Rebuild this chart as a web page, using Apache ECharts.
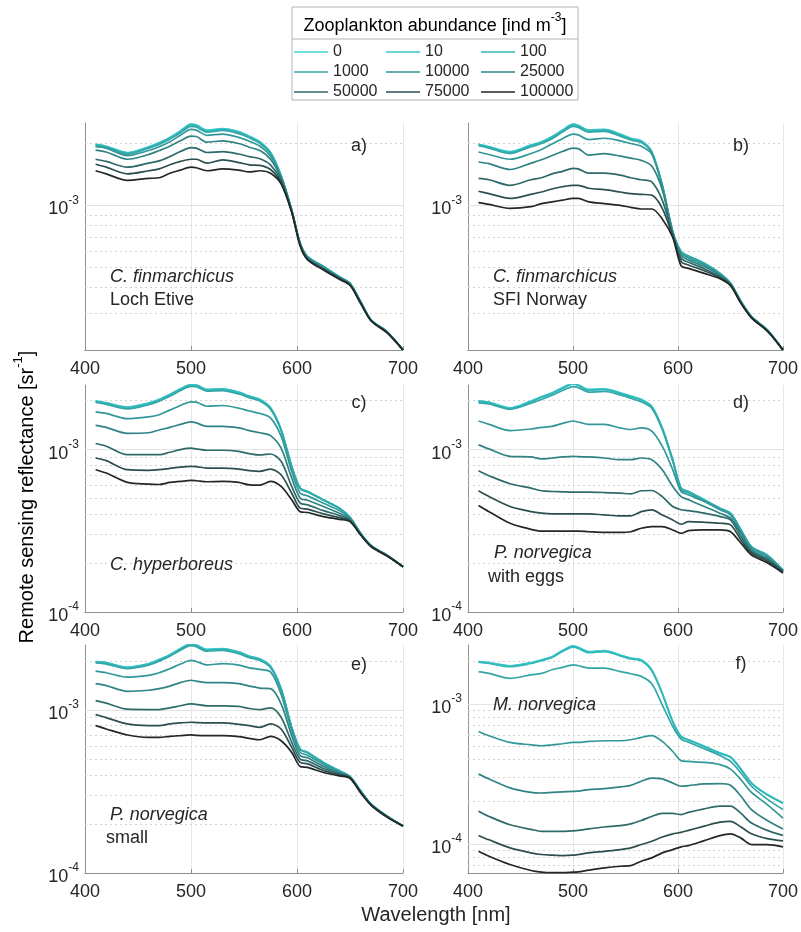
<!DOCTYPE html>
<html><head><meta charset="utf-8">
<script src="https://cdn.jsdelivr.net/npm/echarts@6/dist/echarts.min.js"></script>
<style>html,body{margin:0;padding:0;background:#fff}#c{width:801px;height:932px}</style>
</head><body><div id="c"></div>
<script>
const FONT = '"Liberation Sans", Arial, Helvetica, sans-serif';
const wavelength = [410, 420, 440, 460, 470, 480, 490, 500, 505, 515, 530, 545, 555, 565, 575, 585, 595, 603, 610, 625, 640, 650, 660, 670, 685, 700];
const abundance = ['0', '10', '100', '1000', '10000', '25000', '50000', '75000', '100000'];
const xTicks = [400, 500, 600, 700];

// ---- panel a: C. finmarchicus, Loch Etive ----
const a_0 = [19.7e-4, 19.3e-4, 18.0e-4, 19.2e-4, 20.1e-4, 21.3e-4, 22.9e-4, 24.7e-4, 24.5e-4, 23.1e-4, 23.5e-4, 22.7e-4, 21.6e-4, 20.3e-4, 18.0e-4, 13.9e-4, 9.50e-4, 6.55e-4, 5.65e-4, 5.06e-4, 4.52e-4, 4.20e-4, 3.43e-4, 2.79e-4, 2.45e-4, 2.00e-4];
const a_10 = [19.7e-4, 19.3e-4, 17.9e-4, 19.1e-4, 20.0e-4, 21.2e-4, 22.8e-4, 24.6e-4, 24.4e-4, 23.0e-4, 23.4e-4, 22.6e-4, 21.5e-4, 20.2e-4, 18.0e-4, 13.9e-4, 9.50e-4, 6.55e-4, 5.65e-4, 5.06e-4, 4.52e-4, 4.20e-4, 3.43e-4, 2.79e-4, 2.45e-4, 2.00e-4];
const a_100 = [19.6e-4, 19.2e-4, 17.9e-4, 19.0e-4, 19.9e-4, 21.1e-4, 22.7e-4, 24.4e-4, 24.2e-4, 22.9e-4, 23.2e-4, 22.5e-4, 21.4e-4, 20.1e-4, 17.9e-4, 13.9e-4, 9.49e-4, 6.55e-4, 5.65e-4, 5.06e-4, 4.52e-4, 4.20e-4, 3.43e-4, 2.79e-4, 2.45e-4, 2.00e-4];
const a_1000 = [19.4e-4, 19.0e-4, 17.7e-4, 18.9e-4, 19.7e-4, 20.9e-4, 22.4e-4, 24.1e-4, 23.9e-4, 22.6e-4, 23.0e-4, 22.2e-4, 21.2e-4, 19.9e-4, 17.8e-4, 13.8e-4, 9.49e-4, 6.54e-4, 5.64e-4, 5.05e-4, 4.51e-4, 4.19e-4, 3.42e-4, 2.79e-4, 2.45e-4, 2.00e-4];
const a_10000 = [19.2e-4, 18.9e-4, 17.4e-4, 18.4e-4, 19.2e-4, 20.3e-4, 21.8e-4, 23.3e-4, 23.1e-4, 21.8e-4, 22.1e-4, 21.3e-4, 20.4e-4, 19.3e-4, 17.3e-4, 13.7e-4, 9.48e-4, 6.53e-4, 5.61e-4, 5.02e-4, 4.49e-4, 4.18e-4, 3.41e-4, 2.78e-4, 2.44e-4, 2.00e-4];
const a_25000 = [18.5e-4, 18.1e-4, 16.7e-4, 17.6e-4, 18.4e-4, 19.3e-4, 20.5e-4, 21.6e-4, 21.5e-4, 20.2e-4, 20.5e-4, 19.9e-4, 19.1e-4, 18.4e-4, 16.7e-4, 13.5e-4, 9.45e-4, 6.50e-4, 5.57e-4, 4.98e-4, 4.47e-4, 4.17e-4, 3.40e-4, 2.78e-4, 2.44e-4, 2.00e-4];
const a_50000 = [16.7e-4, 16.3e-4, 15.3e-4, 16.0e-4, 16.4e-4, 17.2e-4, 18.2e-4, 19.0e-4, 18.9e-4, 18.0e-4, 18.2e-4, 17.7e-4, 17.2e-4, 16.8e-4, 15.7e-4, 13.2e-4, 9.38e-4, 6.46e-4, 5.53e-4, 4.94e-4, 4.44e-4, 4.14e-4, 3.39e-4, 2.77e-4, 2.43e-4, 2.00e-4];
const a_75000 = [15.8e-4, 15.3e-4, 14.2e-4, 14.7e-4, 15.0e-4, 15.7e-4, 16.3e-4, 16.7e-4, 16.7e-4, 16.0e-4, 16.6e-4, 16.1e-4, 15.7e-4, 15.6e-4, 14.9e-4, 12.9e-4, 9.31e-4, 6.41e-4, 5.49e-4, 4.90e-4, 4.42e-4, 4.12e-4, 3.37e-4, 2.77e-4, 2.43e-4, 2.00e-4];
const a_100000 = [14.7e-4, 14.2e-4, 13.2e-4, 13.5e-4, 13.6e-4, 14.3e-4, 14.8e-4, 15.3e-4, 15.2e-4, 14.7e-4, 15.0e-4, 14.8e-4, 14.5e-4, 14.7e-4, 14.3e-4, 12.7e-4, 9.24e-4, 6.36e-4, 5.45e-4, 4.87e-4, 4.39e-4, 4.11e-4, 3.36e-4, 2.76e-4, 2.42e-4, 2.00e-4];

// ---- panel b: C. finmarchicus, SFI Norway ----
const b_0 = [19.7e-4, 19.2e-4, 18.2e-4, 19.6e-4, 20.3e-4, 21.5e-4, 23.1e-4, 24.7e-4, 24.4e-4, 23.1e-4, 23.3e-4, 22.1e-4, 21.1e-4, 20.5e-4, 18.2e-4, 12.5e-4, 7.46e-4, 5.97e-4, 5.69e-4, 5.25e-4, 4.69e-4, 4.20e-4, 3.43e-4, 2.90e-4, 2.50e-4, 2.00e-4];
const b_10 = [19.7e-4, 19.2e-4, 18.1e-4, 19.5e-4, 20.2e-4, 21.4e-4, 23.0e-4, 24.6e-4, 24.3e-4, 23.0e-4, 23.2e-4, 22.0e-4, 21.0e-4, 20.4e-4, 18.1e-4, 12.5e-4, 7.46e-4, 5.97e-4, 5.69e-4, 5.25e-4, 4.69e-4, 4.20e-4, 3.43e-4, 2.90e-4, 2.50e-4, 2.00e-4];
const b_100 = [19.6e-4, 19.1e-4, 18.0e-4, 19.4e-4, 20.1e-4, 21.3e-4, 22.9e-4, 24.4e-4, 24.1e-4, 22.9e-4, 23.1e-4, 21.9e-4, 20.9e-4, 20.3e-4, 18.1e-4, 12.5e-4, 7.45e-4, 5.96e-4, 5.68e-4, 5.24e-4, 4.69e-4, 4.20e-4, 3.43e-4, 2.90e-4, 2.50e-4, 2.00e-4];
const b_1000 = [19.4e-4, 18.9e-4, 17.8e-4, 19.2e-4, 19.9e-4, 21.0e-4, 22.6e-4, 24.1e-4, 23.8e-4, 22.6e-4, 22.8e-4, 21.6e-4, 20.7e-4, 20.1e-4, 18.0e-4, 12.5e-4, 7.45e-4, 5.95e-4, 5.67e-4, 5.23e-4, 4.68e-4, 4.20e-4, 3.43e-4, 2.90e-4, 2.50e-4, 2.00e-4];
const b_10000 = [18.1e-4, 17.6e-4, 16.7e-4, 17.8e-4, 18.6e-4, 19.8e-4, 21.0e-4, 22.1e-4, 21.9e-4, 20.8e-4, 21.1e-4, 20.5e-4, 19.9e-4, 19.3e-4, 17.7e-4, 12.3e-4, 7.41e-4, 5.86e-4, 5.57e-4, 5.15e-4, 4.64e-4, 4.18e-4, 3.41e-4, 2.89e-4, 2.49e-4, 2.00e-4];
const b_25000 = [16.2e-4, 15.9e-4, 14.9e-4, 16.0e-4, 16.6e-4, 17.4e-4, 18.2e-4, 18.9e-4, 18.8e-4, 17.5e-4, 17.8e-4, 17.3e-4, 16.9e-4, 16.5e-4, 15.5e-4, 11.9e-4, 7.32e-4, 5.73e-4, 5.45e-4, 5.06e-4, 4.59e-4, 4.17e-4, 3.40e-4, 2.88e-4, 2.49e-4, 2.00e-4];
const b_50000 = [13.5e-4, 13.3e-4, 12.5e-4, 13.3e-4, 13.6e-4, 14.2e-4, 14.6e-4, 15.1e-4, 15.0e-4, 14.3e-4, 14.3e-4, 14.0e-4, 13.6e-4, 13.3e-4, 13.0e-4, 10.6e-4, 7.22e-4, 5.55e-4, 5.31e-4, 4.94e-4, 4.52e-4, 4.14e-4, 3.39e-4, 2.87e-4, 2.48e-4, 2.00e-4];
const b_75000 = [11.7e-4, 11.4e-4, 10.8e-4, 11.3e-4, 11.6e-4, 12.0e-4, 12.3e-4, 12.5e-4, 12.5e-4, 12.1e-4, 11.9e-4, 11.6e-4, 11.4e-4, 11.3e-4, 11.2e-4, 9.67e-4, 7.11e-4, 5.35e-4, 5.15e-4, 4.83e-4, 4.47e-4, 4.12e-4, 3.37e-4, 2.87e-4, 2.48e-4, 2.00e-4];
const b_100000 = [10.3e-4, 10.1e-4, 9.67e-4, 9.85e-4, 10.2e-4, 10.4e-4, 10.6e-4, 10.8e-4, 10.8e-4, 10.4e-4, 10.2e-4, 10.0e-4, 9.78e-4, 9.60e-4, 9.60e-4, 8.60e-4, 7.00e-4, 5.10e-4, 4.96e-4, 4.69e-4, 4.42e-4, 4.09e-4, 3.36e-4, 2.86e-4, 2.47e-4, 2.00e-4];

// ---- panel c: C. hyperboreus ----
const c_0 = [19.9e-4, 19.4e-4, 18.3e-4, 19.4e-4, 20.4e-4, 21.9e-4, 23.7e-4, 25.2e-4, 25.1e-4, 23.5e-4, 23.7e-4, 22.6e-4, 21.4e-4, 20.4e-4, 18.1e-4, 13.3e-4, 7.89e-4, 5.79e-4, 5.52e-4, 4.91e-4, 4.36e-4, 3.83e-4, 3.05e-4, 2.56e-4, 2.24e-4, 1.90e-4];
const c_10 = [19.9e-4, 19.4e-4, 18.2e-4, 19.3e-4, 20.3e-4, 21.8e-4, 23.6e-4, 25.1e-4, 25.0e-4, 23.4e-4, 23.6e-4, 22.5e-4, 21.3e-4, 20.3e-4, 18.1e-4, 13.3e-4, 7.89e-4, 5.79e-4, 5.52e-4, 4.91e-4, 4.36e-4, 3.83e-4, 3.05e-4, 2.56e-4, 2.24e-4, 1.90e-4];
const c_100 = [19.8e-4, 19.3e-4, 18.1e-4, 19.2e-4, 20.2e-4, 21.7e-4, 23.5e-4, 25.0e-4, 24.8e-4, 23.3e-4, 23.5e-4, 22.4e-4, 21.2e-4, 20.2e-4, 18.0e-4, 13.2e-4, 7.87e-4, 5.78e-4, 5.51e-4, 4.90e-4, 4.36e-4, 3.83e-4, 3.05e-4, 2.56e-4, 2.24e-4, 1.90e-4];
const c_1000 = [19.5e-4, 19.0e-4, 17.8e-4, 18.9e-4, 19.9e-4, 21.3e-4, 23.1e-4, 24.5e-4, 24.4e-4, 22.9e-4, 23.1e-4, 22.0e-4, 20.9e-4, 19.9e-4, 17.7e-4, 13.1e-4, 7.82e-4, 5.74e-4, 5.48e-4, 4.88e-4, 4.34e-4, 3.82e-4, 3.05e-4, 2.56e-4, 2.24e-4, 1.90e-4];
const c_10000 = [17.1e-4, 16.7e-4, 15.5e-4, 15.9e-4, 16.4e-4, 17.5e-4, 18.7e-4, 19.7e-4, 19.6e-4, 18.5e-4, 18.7e-4, 18.0e-4, 17.3e-4, 16.7e-4, 15.7e-4, 12.1e-4, 7.35e-4, 5.39e-4, 5.19e-4, 4.68e-4, 4.21e-4, 3.78e-4, 3.04e-4, 2.55e-4, 2.23e-4, 1.90e-4];
const c_25000 = [14.1e-4, 13.7e-4, 12.6e-4, 12.7e-4, 13.2e-4, 13.7e-4, 14.3e-4, 14.8e-4, 14.6e-4, 13.9e-4, 13.9e-4, 13.6e-4, 13.1e-4, 12.7e-4, 12.2e-4, 10.2e-4, 6.68e-4, 5.02e-4, 4.88e-4, 4.46e-4, 4.06e-4, 3.72e-4, 3.02e-4, 2.55e-4, 2.23e-4, 1.90e-4];
const c_50000 = [10.9e-4, 10.5e-4, 9.31e-4, 9.31e-4, 9.31e-4, 9.63e-4, 10.0e-4, 10.2e-4, 10.1e-4, 9.91e-4, 9.91e-4, 9.76e-4, 9.45e-4, 9.27e-4, 9.40e-4, 8.47e-4, 5.93e-4, 4.68e-4, 4.57e-4, 4.21e-4, 3.93e-4, 3.67e-4, 3.01e-4, 2.54e-4, 2.22e-4, 1.90e-4];
const c_75000 = [8.88e-4, 8.55e-4, 7.52e-4, 7.45e-4, 7.52e-4, 7.66e-4, 7.81e-4, 7.89e-4, 7.85e-4, 7.70e-4, 7.70e-4, 7.59e-4, 7.42e-4, 7.35e-4, 7.59e-4, 7.00e-4, 5.39e-4, 4.36e-4, 4.30e-4, 4.02e-4, 3.81e-4, 3.64e-4, 3.00e-4, 2.54e-4, 2.22e-4, 1.90e-4];
const c_100000 = [7.52e-4, 7.17e-4, 6.28e-4, 6.13e-4, 6.10e-4, 6.28e-4, 6.37e-4, 6.46e-4, 6.43e-4, 6.34e-4, 6.37e-4, 6.28e-4, 6.07e-4, 6.05e-4, 6.37e-4, 5.93e-4, 4.91e-4, 4.15e-4, 4.10e-4, 3.87e-4, 3.72e-4, 3.60e-4, 2.98e-4, 2.52e-4, 2.21e-4, 1.90e-4];

// ---- panel d: P. norvegica with eggs ----
const d_0 = [19.9e-4, 19.6e-4, 18.1e-4, 19.9e-4, 21.2e-4, 22.4e-4, 24.1e-4, 25.6e-4, 25.1e-4, 23.5e-4, 23.7e-4, 22.4e-4, 21.4e-4, 20.4e-4, 18.5e-4, 13.6e-4, 8.67e-4, 5.79e-4, 5.52e-4, 4.91e-4, 4.36e-4, 4.06e-4, 3.20e-4, 2.52e-4, 2.24e-4, 1.81e-4];
const d_10 = [19.9e-4, 19.5e-4, 18.0e-4, 19.8e-4, 21.1e-4, 22.3e-4, 24.0e-4, 25.5e-4, 25.0e-4, 23.4e-4, 23.6e-4, 22.3e-4, 21.3e-4, 20.3e-4, 18.4e-4, 13.6e-4, 8.66e-4, 5.79e-4, 5.52e-4, 4.91e-4, 4.36e-4, 4.06e-4, 3.20e-4, 2.52e-4, 2.24e-4, 1.81e-4];
const d_100 = [19.8e-4, 19.4e-4, 17.9e-4, 19.7e-4, 21.0e-4, 22.1e-4, 23.8e-4, 25.3e-4, 24.8e-4, 23.2e-4, 23.4e-4, 22.1e-4, 21.2e-4, 20.2e-4, 18.3e-4, 13.5e-4, 8.64e-4, 5.78e-4, 5.51e-4, 4.90e-4, 4.35e-4, 4.05e-4, 3.20e-4, 2.52e-4, 2.24e-4, 1.81e-4];
const d_1000 = [19.4e-4, 19.1e-4, 17.7e-4, 19.3e-4, 20.4e-4, 21.6e-4, 23.1e-4, 24.4e-4, 24.1e-4, 22.6e-4, 22.8e-4, 21.7e-4, 20.7e-4, 19.7e-4, 18.0e-4, 13.3e-4, 8.47e-4, 5.66e-4, 5.42e-4, 4.84e-4, 4.32e-4, 4.02e-4, 3.19e-4, 2.51e-4, 2.23e-4, 1.80e-4];
const d_10000 = [15.0e-4, 14.3e-4, 13.1e-4, 13.4e-4, 13.7e-4, 13.9e-4, 14.5e-4, 15.0e-4, 14.8e-4, 14.3e-4, 14.3e-4, 13.6e-4, 13.3e-4, 13.6e-4, 13.0e-4, 10.5e-4, 7.52e-4, 5.52e-4, 5.27e-4, 4.79e-4, 4.26e-4, 3.96e-4, 3.12e-4, 2.47e-4, 2.19e-4, 1.79e-4];
const d_25000 = [10.7e-4, 10.1e-4, 9.09e-4, 9.01e-4, 8.76e-4, 8.88e-4, 9.01e-4, 9.09e-4, 9.05e-4, 9.01e-4, 8.88e-4, 8.67e-4, 8.67e-4, 8.88e-4, 8.67e-4, 7.52e-4, 5.93e-4, 5.14e-4, 4.91e-4, 4.46e-4, 4.06e-4, 3.78e-4, 3.05e-4, 2.41e-4, 2.14e-4, 1.79e-4];
const d_50000 = [7.42e-4, 6.91e-4, 6.16e-4, 5.79e-4, 5.58e-4, 5.52e-4, 5.50e-4, 5.47e-4, 5.47e-4, 5.47e-4, 5.44e-4, 5.39e-4, 5.34e-4, 5.58e-4, 5.60e-4, 5.14e-4, 4.46e-4, 4.26e-4, 4.21e-4, 4.06e-4, 3.87e-4, 3.69e-4, 2.91e-4, 2.35e-4, 2.11e-4, 1.78e-4];
const d_75000 = [5.58e-4, 5.14e-4, 4.46e-4, 4.15e-4, 4.06e-4, 4.02e-4, 4.02e-4, 4.02e-4, 4.02e-4, 4.02e-4, 3.96e-4, 3.91e-4, 3.91e-4, 4.15e-4, 4.26e-4, 3.96e-4, 3.69e-4, 3.47e-4, 3.60e-4, 3.57e-4, 3.52e-4, 3.44e-4, 2.78e-4, 2.30e-4, 2.06e-4, 1.76e-4];
const d_100000 = [4.53e-4, 4.15e-4, 3.52e-4, 3.23e-4, 3.15e-4, 3.15e-4, 3.15e-4, 3.15e-4, 3.15e-4, 3.12e-4, 3.09e-4, 3.09e-4, 3.12e-4, 3.28e-4, 3.36e-4, 3.36e-4, 3.20e-4, 3.05e-4, 3.17e-4, 3.20e-4, 3.20e-4, 3.12e-4, 2.65e-4, 2.24e-4, 2.01e-4, 1.74e-4];

// ---- panel e: P. norvegica small ----
const e_0 = [19.8e-4, 19.5e-4, 18.3e-4, 19.2e-4, 20.4e-4, 21.8e-4, 23.8e-4, 25.5e-4, 25.1e-4, 23.5e-4, 23.8e-4, 22.7e-4, 21.4e-4, 20.6e-4, 18.6e-4, 13.5e-4, 7.82e-4, 5.75e-4, 5.49e-4, 4.76e-4, 4.23e-4, 3.90e-4, 3.19e-4, 2.64e-4, 2.23e-4, 1.94e-4];
const e_10 = [19.8e-4, 19.5e-4, 18.2e-4, 19.1e-4, 20.3e-4, 21.7e-4, 23.7e-4, 25.4e-4, 25.0e-4, 23.4e-4, 23.7e-4, 22.6e-4, 21.3e-4, 20.5e-4, 18.5e-4, 13.5e-4, 7.82e-4, 5.75e-4, 5.49e-4, 4.76e-4, 4.23e-4, 3.90e-4, 3.19e-4, 2.64e-4, 2.23e-4, 1.94e-4];
const e_100 = [19.7e-4, 19.4e-4, 18.1e-4, 19.0e-4, 20.2e-4, 21.6e-4, 23.6e-4, 25.2e-4, 24.8e-4, 23.3e-4, 23.6e-4, 22.5e-4, 21.2e-4, 20.4e-4, 18.4e-4, 13.4e-4, 7.80e-4, 5.74e-4, 5.48e-4, 4.75e-4, 4.23e-4, 3.90e-4, 3.19e-4, 2.64e-4, 2.23e-4, 1.94e-4];
const e_1000 = [19.4e-4, 19.1e-4, 17.9e-4, 18.8e-4, 19.9e-4, 21.3e-4, 23.2e-4, 24.8e-4, 24.4e-4, 22.9e-4, 23.2e-4, 22.1e-4, 20.9e-4, 20.1e-4, 18.2e-4, 13.3e-4, 7.75e-4, 5.71e-4, 5.46e-4, 4.73e-4, 4.21e-4, 3.89e-4, 3.18e-4, 2.64e-4, 2.23e-4, 1.94e-4];
const e_10000 = [17.3e-4, 16.9e-4, 15.9e-4, 16.3e-4, 16.9e-4, 17.9e-4, 19.1e-4, 20.1e-4, 19.8e-4, 18.9e-4, 19.2e-4, 18.8e-4, 18.1e-4, 17.7e-4, 17.1e-4, 12.5e-4, 7.46e-4, 5.49e-4, 5.28e-4, 4.63e-4, 4.17e-4, 3.88e-4, 3.17e-4, 2.63e-4, 2.22e-4, 1.94e-4];
const e_25000 = [14.5e-4, 14.1e-4, 13.0e-4, 13.2e-4, 13.5e-4, 14.0e-4, 14.7e-4, 15.2e-4, 15.0e-4, 14.7e-4, 14.7e-4, 14.5e-4, 14.0e-4, 13.6e-4, 13.5e-4, 10.9e-4, 6.95e-4, 5.23e-4, 5.09e-4, 4.50e-4, 4.11e-4, 3.87e-4, 3.15e-4, 2.63e-4, 2.22e-4, 1.94e-4];
const e_50000 = [11.4e-4, 11.0e-4, 10.1e-4, 10.05e-4, 10.05e-4, 10.3e-4, 10.6e-4, 10.9e-4, 10.8e-4, 10.6e-4, 10.6e-4, 10.5e-4, 10.2e-4, 10.05e-4, 10.3e-4, 9.01e-4, 6.32e-4, 4.99e-4, 4.87e-4, 4.37e-4, 4.05e-4, 3.85e-4, 3.14e-4, 2.61e-4, 2.21e-4, 1.94e-4];
const e_75000 = [9.36e-4, 8.97e-4, 8.20e-4, 8.01e-4, 8.01e-4, 8.20e-4, 8.32e-4, 8.40e-4, 8.36e-4, 8.32e-4, 8.32e-4, 8.16e-4, 8.01e-4, 7.82e-4, 8.20e-4, 7.64e-4, 5.89e-4, 4.76e-4, 4.67e-4, 4.25e-4, 3.99e-4, 3.83e-4, 3.12e-4, 2.61e-4, 2.21e-4, 1.94e-4];
const e_100000 = [8.01e-4, 7.64e-4, 7.02e-4, 6.79e-4, 6.79e-4, 6.88e-4, 6.95e-4, 7.02e-4, 6.98e-4, 6.95e-4, 6.95e-4, 6.85e-4, 6.69e-4, 6.56e-4, 6.88e-4, 6.47e-4, 5.49e-4, 4.50e-4, 4.44e-4, 4.13e-4, 3.94e-4, 3.81e-4, 3.11e-4, 2.60e-4, 2.20e-4, 1.94e-4];

// ---- panel f: M. norvegica ----
const f_0 = [20.0e-4, 19.7e-4, 18.7e-4, 19.7e-4, 20.6e-4, 21.7e-4, 24.0e-4, 25.9e-4, 25.3e-4, 23.6e-4, 24.0e-4, 22.3e-4, 21.2e-4, 20.6e-4, 17.5e-4, 11.9e-4, 7.48e-4, 5.85e-4, 5.54e-4, 4.97e-4, 4.45e-4, 4.17e-4, 3.42e-4, 2.72e-4, 2.25e-4, 1.96e-4];
const f_10 = [20.0e-4, 19.6e-4, 18.6e-4, 19.6e-4, 20.5e-4, 21.6e-4, 23.9e-4, 25.8e-4, 25.2e-4, 23.5e-4, 23.9e-4, 22.2e-4, 21.1e-4, 20.5e-4, 17.4e-4, 11.9e-4, 7.47e-4, 5.85e-4, 5.54e-4, 4.97e-4, 4.45e-4, 4.17e-4, 3.42e-4, 2.72e-4, 2.25e-4, 1.96e-4];
const f_100 = [19.8e-4, 19.4e-4, 18.4e-4, 19.4e-4, 20.3e-4, 21.4e-4, 23.6e-4, 25.4e-4, 24.9e-4, 23.2e-4, 23.6e-4, 22.0e-4, 20.9e-4, 20.3e-4, 17.2e-4, 11.8e-4, 7.43e-4, 5.83e-4, 5.52e-4, 4.95e-4, 4.43e-4, 4.15e-4, 3.40e-4, 2.71e-4, 2.24e-4, 1.95e-4];
const f_1000 = [17.0e-4, 16.5e-4, 15.2e-4, 16.1e-4, 16.5e-4, 17.5e-4, 18.2e-4, 19.0e-4, 18.7e-4, 18.0e-4, 18.0e-4, 17.0e-4, 16.4e-4, 15.7e-4, 13.9e-4, 9.84e-4, 6.89e-4, 5.60e-4, 5.33e-4, 4.78e-4, 4.28e-4, 3.88e-4, 3.21e-4, 2.58e-4, 2.09e-4, 1.76e-4];
const f_10000 = [6.35e-4, 5.92e-4, 5.30e-4, 5.10e-4, 5.02e-4, 5.10e-4, 5.19e-4, 5.30e-4, 5.30e-4, 5.39e-4, 5.45e-4, 5.45e-4, 5.54e-4, 5.76e-4, 5.92e-4, 5.39e-4, 4.57e-4, 3.93e-4, 3.88e-4, 3.82e-4, 3.68e-4, 3.42e-4, 2.87e-4, 2.33e-4, 1.91e-4, 1.53e-4];
const f_25000 = [3.15e-4, 2.91e-4, 2.51e-4, 2.33e-4, 2.31e-4, 2.33e-4, 2.35e-4, 2.37e-4, 2.38e-4, 2.44e-4, 2.48e-4, 2.55e-4, 2.62e-4, 2.80e-4, 2.95e-4, 2.91e-4, 2.72e-4, 2.58e-4, 2.61e-4, 2.68e-4, 2.69e-4, 2.62e-4, 2.19e-4, 1.76e-4, 1.47e-4, 1.28e-4];
const f_50000 = [1.71e-4, 1.57e-4, 1.37e-4, 1.27e-4, 1.23e-4, 1.23e-4, 1.23e-4, 1.24e-4, 1.25e-4, 1.28e-4, 1.32e-4, 1.35e-4, 1.39e-4, 1.47e-4, 1.57e-4, 1.65e-4, 1.65e-4, 1.62e-4, 1.68e-4, 1.78e-4, 1.86e-4, 1.86e-4, 1.65e-4, 1.41e-4, 1.25e-4, 1.15e-4];
const f_75000 = [1.15e-4, 1.07e-4, 0.937e-4, 0.863e-4, 0.840e-4, 0.831e-4, 0.826e-4, 0.831e-4, 0.840e-4, 0.863e-4, 0.886e-4, 0.911e-4, 0.937e-4, 0.990e-4, 1.045e-4, 1.12e-4, 1.18e-4, 1.21e-4, 1.25e-4, 1.34e-4, 1.43e-4, 1.45e-4, 1.32e-4, 1.18e-4, 1.09e-4, 1.05e-4];
const f_100000 = [0.887e-4, 0.817e-4, 0.713e-4, 0.646e-4, 0.629e-4, 0.623e-4, 0.623e-4, 0.629e-4, 0.632e-4, 0.650e-4, 0.675e-4, 0.693e-4, 0.700e-4, 0.753e-4, 0.795e-4, 0.863e-4, 0.911e-4, 0.952e-4, 0.973e-4, 1.056e-4, 1.146e-4, 1.18e-4, 1.10e-4, 0.990e-4, 0.990e-4, 0.952e-4];

// grid line values (log axis decades and minor multiples)
const minorAB = [3e-4, 4e-4, 5e-4, 6e-4, 7e-4, 8e-4, 9e-4, 2e-3];
const minorCDE = [2e-4, 3e-4, 4e-4, 5e-4, 6e-4, 7e-4, 8e-4, 9e-4, 2e-3];
const minorF = [7e-5, 8e-5, 9e-5, 2e-4, 3e-4, 4e-4, 5e-4, 6e-4, 7e-4, 8e-4, 9e-4, 2e-3];
const majorAB = [1e-3];
const majorCF = [1e-4, 1e-3];

const panelLetters = ['a)', 'b)', 'c)', 'd)', 'e)', 'f)'];
const speciesNames = ['C. finmarchicus', 'C. finmarchicus', 'C. hyperboreus', 'P. norvegica', 'P. norvegica', 'M. norvegica'];
const speciesNotes = ['Loch Etive', 'SFI Norway', '', 'with eggs', 'small', ''];

const lineColors = ['#3fd2d4', '#39c5c7', '#34b7b9', '#33a6a7', '#329798', '#318283', '#2f6a6b', '#2d4e4f', '#242727'];

const panelSeries = [
  [a_0, a_10, a_100, a_1000, a_10000, a_25000, a_50000, a_75000, a_100000],
  [b_0, b_10, b_100, b_1000, b_10000, b_25000, b_50000, b_75000, b_100000],
  [c_0, c_10, c_100, c_1000, c_10000, c_25000, c_50000, c_75000, c_100000],
  [d_0, d_10, d_100, d_1000, d_10000, d_25000, d_50000, d_75000, d_100000],
  [e_0, e_10, e_100, e_1000, e_10000, e_25000, e_50000, e_75000, e_100000],
  [f_0, f_10, f_100, f_1000, f_10000, f_25000, f_50000, f_75000, f_100000]
];

const layout = [
  {left: 85, top: 123, width: 318, height: 227, yMin: 2e-4, yMax: 2.5e-3, minor: minorAB, major: majorAB, letter: [359, 146], sp: [110, 277], note: [110, 300]},
  {left: 468, top: 123, width: 319, height: 227, yMin: 2e-4, yMax: 2.5e-3, minor: minorAB, major: majorAB, letter: [741, 146], sp: [493, 277], note: [493, 300]},
  {left: 85, top: 385, width: 318, height: 227, yMin: 1e-4, yMax: 2.5e-3, minor: minorCDE, major: majorCF, letter: [359, 403], sp: [110, 565], note: [110, 588]},
  {left: 468, top: 385, width: 319, height: 227, yMin: 1e-4, yMax: 2.5e-3, minor: minorCDE, major: majorCF, letter: [741, 403], sp: [494, 553], note: [488, 577]},
  {left: 85, top: 645, width: 318, height: 228, yMin: 1e-4, yMax: 2.5e-3, minor: minorCDE, major: majorCF, letter: [359, 665], sp: [110, 815], note: [106, 838]},
  {left: 468, top: 645, width: 319, height: 228, yMin: 6.2e-5, yMax: 2.63e-3, minor: minorF, major: majorCF, letter: [741, 664], sp: [493, 705], note: [493, 728]}
];

const TXT = '#262626';
const supRich = {
  b: {fontSize: 18, fontFamily: FONT, color: TXT, padding: [8, 0, 0, 0]},
  s: {fontSize: 12, fontFamily: FONT, color: TXT, verticalAlign: 'top', padding: [2, 0, 0, 0]}
};

const grids = [], xAxes = [], yAxes = [], series = [], graphics = [];
layout.forEach((p, i) => {
  grids.push({left: p.left, top: p.top, width: p.width, height: p.height});
  xAxes.push({
    type: 'value', gridIndex: i, min: xTicks[0], max: xTicks[xTicks.length - 1], interval: 100,
    axisLine: {onZero: false, lineStyle: {color: '#8f8f8f', width: 1}},
    axisTick: {show: true, inside: true, length: 4, lineStyle: {color: '#8f8f8f'}},
    axisLabel: {fontSize: 18, fontFamily: FONT, color: TXT, margin: 10, showMinLabel: true, showMaxLabel: true},
    splitLine: {show: true, lineStyle: {color: '#e6e6e6', width: 1}}
  });
  yAxes.push({
    type: 'log', logBase: 10, gridIndex: i, min: p.yMin, max: p.yMax,
    axisLine: {show: true, lineStyle: {color: '#8f8f8f', width: 1}},
    axisTick: {show: false}, axisLabel: {show: false}, splitLine: {show: false}
  });
  const ml = [];
  p.minor.forEach(v => ml.push({yAxis: v, lineStyle: {type: [2, 3], color: '#d2d2d2', width: 1}, label: {show: false}}));
  p.major.forEach(v => ml.push({yAxis: v, lineStyle: {type: 'solid', width: 1, color: v <= p.yMin * 1.001 ? 'rgba(0,0,0,0)' : '#e3e3e3'}, label: {show: true}}));
  panelSeries[i].forEach((arr, j) => {
    const s = {
      type: 'line', name: abundance[j], xAxisIndex: i, yAxisIndex: i,
      data: wavelength.map((w, k) => [w, arr[k]]),
      symbol: 'none', showSymbol: false, smooth: 0.3, z: 3,
      lineStyle: {width: 1.7, color: lineColors[j]}, itemStyle: {color: lineColors[j]},
      emphasis: {disabled: true}
    };
    if (j === 0) {
      s.markLine = {
        silent: true, symbol: ['none', 'none'], animation: false, z: 1, precision: 12,
        label: {show: true, position: 'start', distance: 6,
          formatter: prm => '{b|10}{s|' + Math.round(Math.log10(prm.value)) + '}', rich: supRich},
        emphasis: {disabled: true},
        data: ml
      };
    }
    series.push(s);
  });
  graphics.push({type: 'text', z: 10, x: p.letter[0], y: p.letter[1], style: {text: panelLetters[i], fontSize: 18, fontFamily: FONT, fill: TXT, align: 'center', verticalAlign: 'middle'}});
  graphics.push({type: 'text', z: 10, x: p.sp[0], y: p.sp[1], style: {text: speciesNames[i], fontSize: 18, fontStyle: 'italic', fontFamily: FONT, fill: TXT, align: 'left', verticalAlign: 'middle'}});
  if (speciesNotes[i]) graphics.push({type: 'text', z: 10, x: p.note[0], y: p.note[1], style: {text: speciesNotes[i], fontSize: 18, fontFamily: FONT, fill: TXT, align: 'left', verticalAlign: 'middle'}});
});

// legend box, title, axis titles
graphics.push({type: 'rect', shape: {x: 292, y: 7, width: 286, height: 93}, style: {fill: '#fff', stroke: '#b3b3b3', lineWidth: 1}, z: 0});
graphics.push({type: 'line', shape: {x1: 292, y1: 39, x2: 578, y2: 39}, style: {stroke: '#b3b3b3', lineWidth: 1}, z: 0});
const titleRich = {
  t: {fontSize: 18, fontFamily: FONT, color: TXT, padding: [7, 0, 0, 0]},
  s: {fontSize: 12, fontFamily: FONT, color: TXT, verticalAlign: 'top', padding: [1, 0, 0, 0]}
};
graphics.push({type: 'text', x: 435, y: 23, z: 1, style: {text: '{t|Zooplankton abundance [ind m}{s|-3}{t|]}', rich: titleRich, align: 'center', verticalAlign: 'middle'}});
graphics.push({type: 'text', x: 24, y: 497, rotation: Math.PI / 2, style: {text: '{t|Remote sensing reflectance [sr}{s|-1}{t|]}', rich: {
  t: {fontSize: 20, fontFamily: FONT, color: TXT, padding: [7, 0, 0, 0]},
  s: {fontSize: 13, fontFamily: FONT, color: TXT, verticalAlign: 'top', padding: [1, 0, 0, 0]}
}, align: 'center', verticalAlign: 'middle'}});
graphics.push({type: 'text', x: 436, y: 915, style: {text: 'Wavelength [nm]', fontSize: 20, fontFamily: FONT, fill: TXT, align: 'center', verticalAlign: 'middle'}});

const legendLeft = [294, 386, 481];
const legends = [0, 1, 2].map(c => ({
  orient: 'vertical', left: legendLeft[c], top: 44, padding: 0, icon: 'rect',
  itemWidth: 34, itemHeight: 1.5, itemGap: 4,
  data: [abundance[c], abundance[c + 3], abundance[c + 6]],
  textStyle: {fontSize: 16, fontFamily: FONT, color: TXT}
}));

const chart = echarts.init(document.getElementById('c'), null, {renderer: 'canvas'});
chart.setOption({
  backgroundColor: '#fff', animation: false,
  textStyle: {fontFamily: FONT},
  grid: grids, xAxis: xAxes, yAxis: yAxes,
  legend: legends, series: series, graphic: graphics
});
</script>
</body></html>
